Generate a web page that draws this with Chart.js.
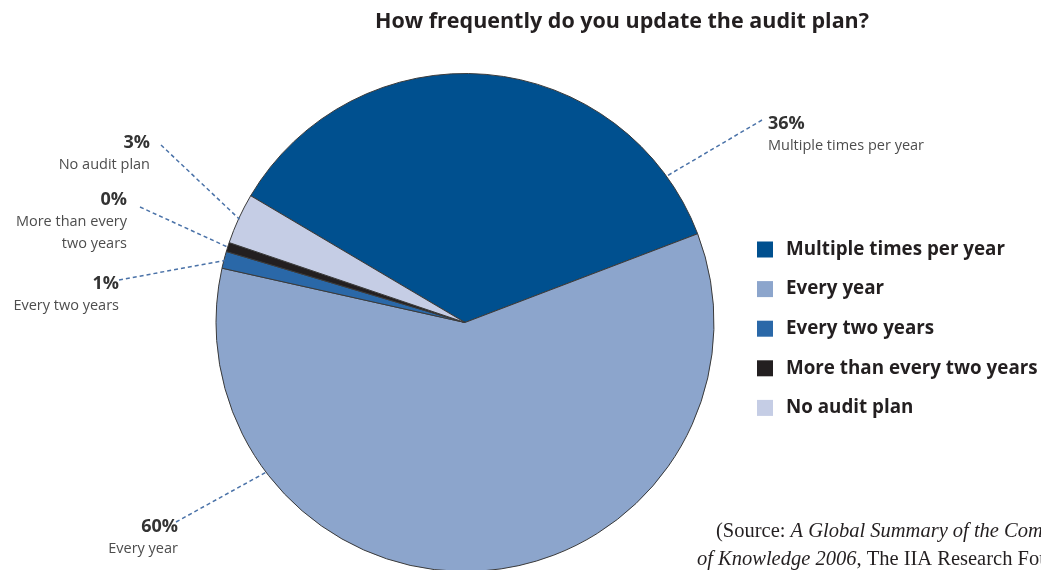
<!DOCTYPE html>
<html>
<head>
<meta charset="utf-8">
<title>Audit plan update frequency</title>
<script src="https://cdn.jsdelivr.net/npm/chart.js@4/dist/chart.umd.min.js"></script>
<style>
  html, body { margin: 0; padding: 0; background: #fff; overflow: hidden; }
  canvas { display: block; }
</style>
</head>
<body>
<canvas id="auditChart" width="1041" height="572"></canvas>
<script>
// Data
const categories = ['Multiple times per year', 'Every year', 'Every two years', 'More than every two years', 'No audit plan'];
const shares = [35.7, 59.3, 1.1, 0.6, 3.3];
const shownPercent = ['36%', '60%', '1%', '0%', '3%'];
const sliceColors = ['#00508f', '#8ca5cc', '#2a68a8', '#231f20', '#c5cde5'];

// Callout label placement (text lines, anchor, and where on the rim the leader line lands)
const callouts = [
  { i: 0, lines: ['Multiple times per year'], x: 768, y: 124, align: 'left', from: [762, 120], rimAngle: 54 },
  { i: 1, lines: ['Every year'], x: 178, y: 527, align: 'right', from: [176, 522], rimAngle: 233 },
  { i: 2, lines: ['Every two years'], x: 119, y: 284, align: 'right', from: [119, 280], rimAngle: 284.5 },
  { i: 3, lines: ['More than every', 'two years'], x: 127, y: 200, align: 'right', from: [140, 207], rimAngle: 287.6 },
  { i: 4, lines: ['No audit plan'], x: 150, y: 143, align: 'right', from: [161, 145], rimAngle: 294.6 }
];

const extras = {
  id: 'extras',
  afterDraw(chart) {
    const c = chart.ctx;
    const arc = chart.getDatasetMeta(0).data[0];
    const cx = arc.x, cy = arc.y, r = arc.outerRadius;
    c.save();

    // title
    c.fillStyle = '#231f20';
    c.font = 'bold 21.5px "Open Sans"';
    c.textAlign = 'center';
    c.textBaseline = 'middle';
    c.fillText('How frequently do you update the audit plan?', 622, 22);

    // leader lines
    c.strokeStyle = '#4a72a8';
    c.lineWidth = 1.5;
    c.setLineDash([4, 3]);
    callouts.forEach(co => {
      const a = (co.rimAngle - 90) * Math.PI / 180;
      c.beginPath();
      c.moveTo(co.from[0], co.from[1]);
      c.lineTo(cx + Math.cos(a) * (r - 1), cy + Math.sin(a) * (r - 1));
      c.stroke();
    });
    c.setLineDash([]);

    // callout texts
    c.textBaseline = 'middle';
    callouts.forEach(co => {
      c.textAlign = co.align;
      c.fillStyle = '#333333';
      c.font = 'bold 18px "Open Sans"';
      c.fillText(shownPercent[co.i], co.x, co.y);
      c.fillStyle = '#4d4d4d';
      c.font = '14.5px "Open Sans"';
      co.lines.forEach((ln, k) => c.fillText(ln, co.x, co.y + 22 + k * 22));
    });

    // legend
    c.textAlign = 'left';
    c.font = 'bold 18.8px "Open Sans"';
    categories.forEach((name, k) => {
      const y = 249.5 + k * 39.6;
      c.fillStyle = sliceColors[k];
      c.fillRect(757, y - 8, 16, 16);
      c.fillStyle = '#231f20';
      c.fillText(name, 786, y);
    });

    // source note (runs off the right edge like the original)
    c.fillStyle = '#231f20';
    c.textBaseline = 'alphabetic';
    let x = 716;
    const part = (t, italic, y) => {
      c.font = (italic ? 'italic ' : '') + '20.5px "Liberation Serif"';
      c.fillText(t, x, y);
      x += c.measureText(t).width;
    };
    part('(Source: ', false, 537);
    part('A Global Summary of the Common Body', true, 537);
    x = 697;
    part('of Knowledge 2006', true, 565);
    part(', The IIA Research Foundation)', false, 565);

    c.restore();
  }
};

new Chart(document.getElementById('auditChart').getContext('2d'), {
  type: 'pie',
  data: {
    labels: categories,
    datasets: [{
      data: shares,
      backgroundColor: sliceColors,
      borderColor: '#3a3a3a',
      borderWidth: 1
    }]
  },
  options: {
    responsive: false,
    animation: false,
    rotation: -59.4,
    layout: { padding: { top: 73, bottom: 0, left: 0, right: 111 } },
    plugins: {
      legend: { display: false },
      title: { display: false },
      tooltip: { enabled: false }
    }
  },
  plugins: [extras]
});
</script>
</body>
</html>
